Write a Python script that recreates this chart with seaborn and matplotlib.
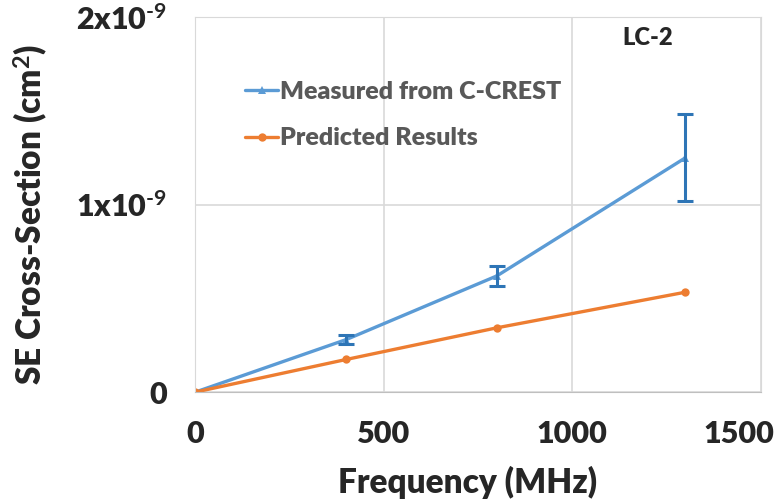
import pandas as pd
import matplotlib
matplotlib.use('Agg')
import matplotlib.pyplot as plt
from matplotlib.transforms import ScaledTranslation
import seaborn as sns

# Data
freq = [0, 400, 800, 1300]
measured = [0.0, 0.28e-9, 0.62e-9, 1.25e-9]
measured_err = [0.0, 0.024e-9, 0.052e-9, 0.233e-9]
predicted = [0.0, 0.174e-9, 0.343e-9, 0.533e-9]

y_ticks = [0, 1e-9, 2e-9]
y_labels = ['0', r'1x10$^{\text{-9}}$', r'2x10$^{\text{-9}}$']
x_ticks = [0, 500, 1000, 1500]

sns.set_style('whitegrid')
plt.rcParams['font.family'] = ['Lato', 'DejaVu Sans']
plt.rcParams['mathtext.fontset'] = 'custom'
plt.rcParams['mathtext.rm'] = 'Lato:bold'
plt.rcParams['mathtext.bf'] = 'Lato:bold'
plt.rcParams['mathtext.default'] = 'bf'

W = 'heavy'

df = pd.DataFrame({'freq': freq + freq,
                   'val': measured + predicted,
                   'series': ['Measured from C-CREST'] * 4 + ['Predicted Results'] * 4})

fig, ax = plt.subplots(figsize=(7.78, 5.04), dpi=100)
fig.subplots_adjust(left=0.251, right=0.978, top=0.966, bottom=0.222)

palette = {'Measured from C-CREST': '#5B9BD5', 'Predicted Results': '#ED7D31'}
sns.lineplot(data=df, x='freq', y='val', hue='series', style='series',
             markers={'Measured from C-CREST': '^', 'Predicted Results': 'o'},
             dashes=False, palette=palette, linewidth=2.4, markersize=6,
             markeredgewidth=0, ax=ax)

ax.errorbar(freq[1:], measured[1:], yerr=measured_err[1:], fmt='none',
            ecolor='#2E75B6', elinewidth=2.2, capsize=6, capthick=2.2, zorder=3)

ax.set_xlim(0, 1500)
ax.set_ylim(0, 2e-9)
ax.set_xticks(x_ticks)
ax.set_yticks(y_ticks)
ax.set_yticklabels(y_labels)
ax.tick_params(axis='both', labelsize=22, length=0)
ax.tick_params(axis='x', pad=20)
ax.tick_params(axis='y', pad=20)
for lab in ax.get_xticklabels() + ax.get_yticklabels():
    lab.set_fontweight(W)
# last x label sits a bit left of its gridline, as in the original
last = ax.get_xticklabels()[-1]
last.set_transform(last.get_transform() + ScaledTranslation(-0.22, 0, fig.dpi_scale_trans))

ax.grid(color='#d9d9d9', linewidth=1.2)
for side in ['top', 'right', 'left']:
    ax.spines[side].set_color('#d9d9d9')
ax.spines['bottom'].set_color('#bfbfbf')

ax.set_xlabel('Frequency (MHz)', fontsize=24, fontweight=W)
ax.set_ylabel(r'SE Cross-Section (cm$^{\mathbf{2}}$)', fontsize=24, fontweight=W)
ax.xaxis.set_label_coords(0.481, -0.197)
ax.yaxis.set_label_coords(-0.256, 0.474)

ax.text(0.799, 0.944, 'LC-2', transform=ax.transAxes, fontsize=17,
        fontweight=W, ha='center', va='center')

leg = ax.legend(loc='upper left', bbox_to_anchor=(0.088, 0.83), frameon=False,
                fontsize=18, handlelength=1.33, handletextpad=0.05, labelspacing=0.98,
                borderpad=0, borderaxespad=0, title=None)
for t in leg.get_texts():
    t.set_color('#595959')
    t.set_fontweight(W)

fig.savefig('out.png', dpi=100)
